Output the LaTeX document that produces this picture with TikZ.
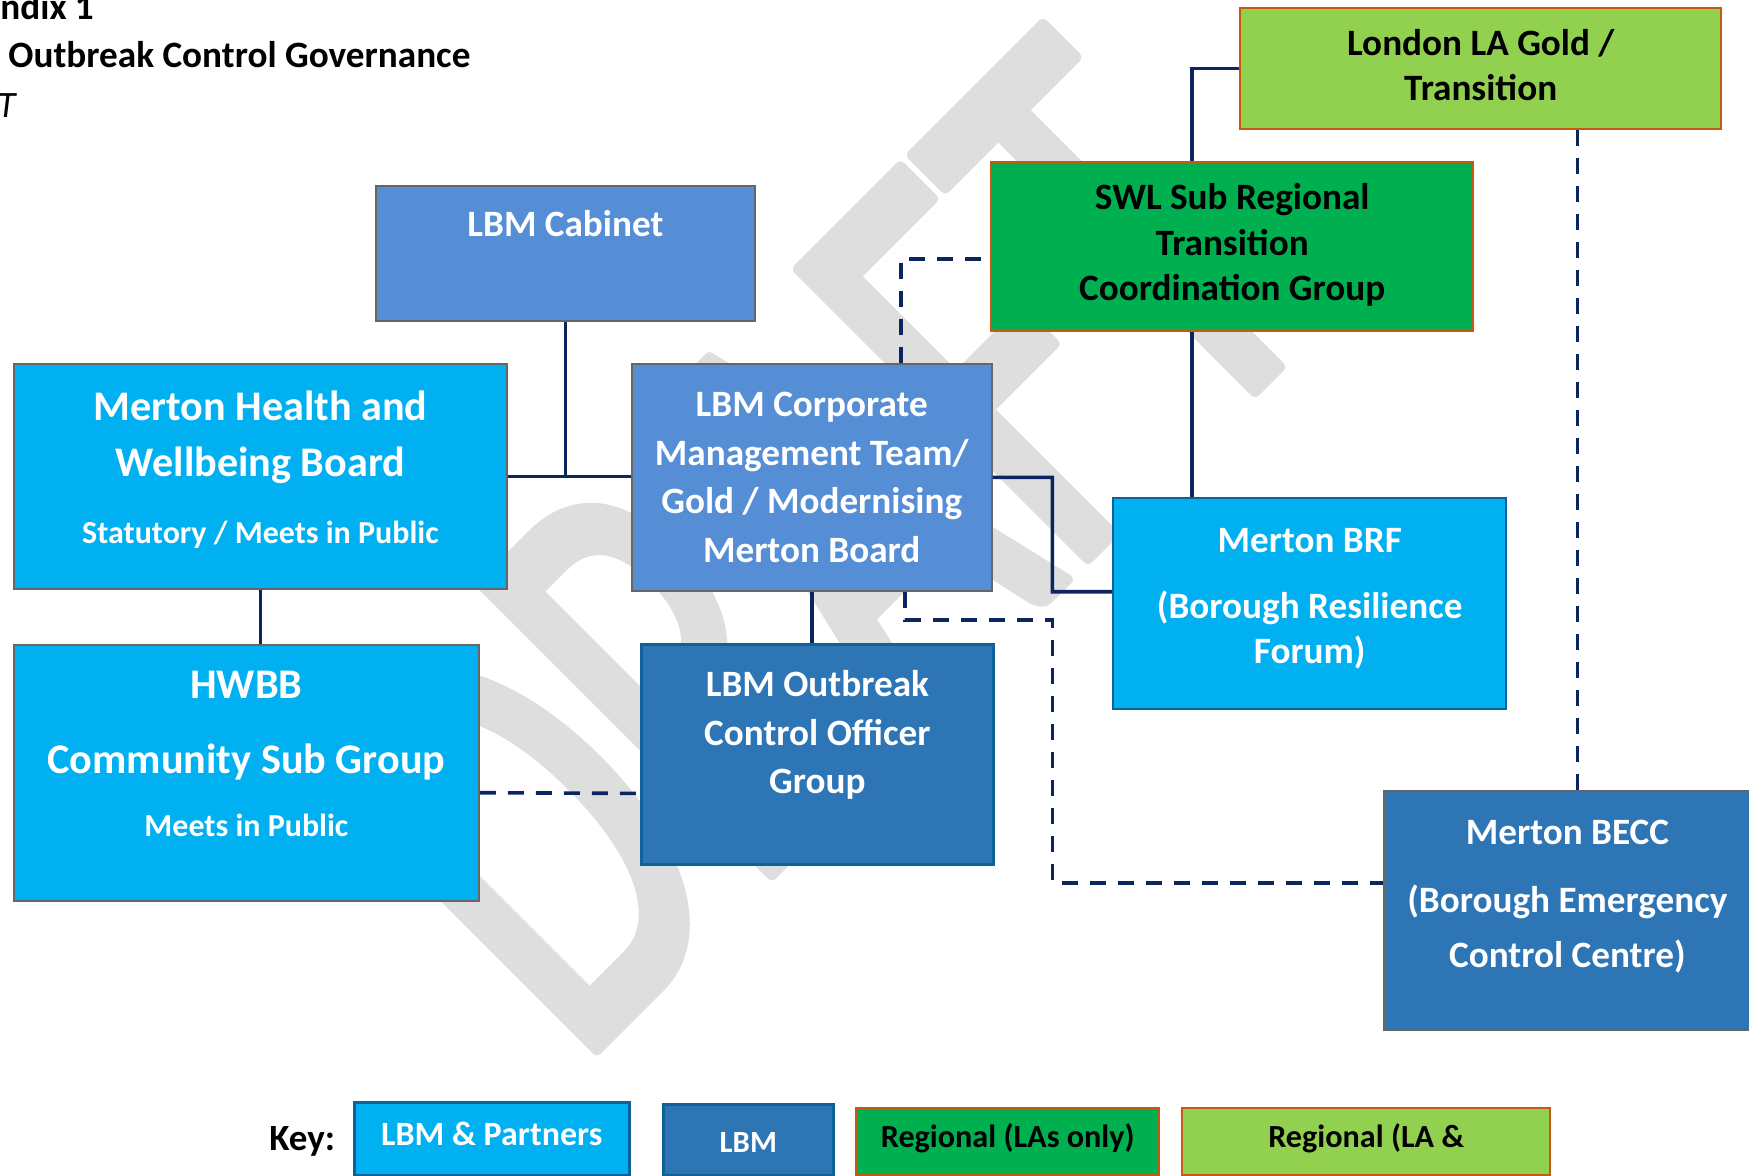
\documentclass[tikz,border=0pt]{standalone}
\usepackage{fontspec}
\setmainfont{Carlito}
\newfontfamily\draftfont[FakeStretch=0.625]{Carlito}
\usetikzlibrary{positioning}
\usetikzlibrary{calc}

\definecolor{linkcolor}{HTML}{0B2560}
\definecolor{partnerfill}{HTML}{00B0F0}
\definecolor{boardfill}{HTML}{558ED5}
\definecolor{lbmfill}{HTML}{2E75B6}
\definecolor{regionalfill}{HTML}{00B050}
\definecolor{londonfill}{HTML}{92D050}
\definecolor{regionalborder}{HTML}{C55A11}
\definecolor{lbmborder}{HTML}{0F6199}
\colorlet{greyborder}{black!60}
\colorlet{watermark}{black!13}

\newcommand{\boxfont}[2]{\fontsize{#1}{#2}\selectfont\bfseries}
% fill and stroke the letters so their corners come out rounded
\newcommand{\rounded}[1]{\special{pdf:literal direct 2 Tr 5 w 1 j}#1\special{pdf:literal direct 0 Tr}}

\tikzstyle{module}=[anchor=north west, inner sep=0pt, solid]
\tikzstyle{partnermodule}=[module, fill=partnerfill, draw=greyborder, line width=0.9pt]
\tikzstyle{boardmodule}=[module, fill=boardfill, draw=greyborder, line width=0.9pt]
\tikzstyle{lbmmodule}=[module, fill=lbmfill, draw=lbmborder, line width=1.6pt]
\tikzstyle{regionalmodule}=[module, fill=regionalfill, draw=regionalborder, line width=1.2pt]
\tikzstyle{londonmodule}=[module, fill=londonfill, draw=regionalborder, line width=1.2pt]
\tikzstyle{whitetext}=[white, align=center, anchor=base, inner sep=0pt]
\tikzstyle{blacktext}=[black, align=center, anchor=base, inner sep=0pt]
\tikzstyle{link}=[linkcolor, line width=1.8pt]
\tikzstyle{dashedlink}=[link, dash pattern=on 8pt off 6pt]

\begin{document}
\begin{tikzpicture}[x=0.5pt, y=-0.5pt]
    \useasboundingbox (0,0) rectangle (1749,1176);

    % watermark sits under everything
    \node[text=watermark, rotate=45, inner sep=0pt, font=\draftfont\fontsize{320pt}{320pt}\selectfont] (draftmark) at (812,545) {\rounded{DRAFT}};

    % heading
    \node[anchor=base west, inner sep=0pt, font=\boxfont{18.6pt}{22pt}] (heading) at (0,20) {ndix 1};
    \node[anchor=base west, inner sep=0pt, font=\boxfont{18.6pt}{22pt}] (headingtitle) at (8,68) {Outbreak Control Governance};
    \node[anchor=base west, inner sep=0pt, font=\fontsize{18.6pt}{22pt}\selectfont\itshape] (headingdraft) at (-3,118) {T};

    % boxes
    \node[boardmodule, minimum width=189.5pt, minimum height=67.5pt] (cabinet) at (375,185) {};
    \node[partnermodule, minimum width=246.5pt, minimum height=112.5pt] (hwb) at (13,363) {};
    \node[boardmodule, minimum width=180pt, minimum height=113.5pt] (corporate) at ($(hwb.north east)+(123,0)$) {};
    \node[partnermodule, minimum width=232.5pt, minimum height=128pt] (hwbb) at ($(hwb.south west)+(0,54)$) {};
    \node[lbmmodule, minimum width=176pt, minimum height=110pt] (outbreak) at ($(corporate.south west)+(9,51)$) {};
    \node[regionalmodule, minimum width=241pt, minimum height=84.5pt] (swl) at (990,161) {};
    \node[londonmodule, minimum width=240.5pt, minimum height=60.5pt] (london) at (1239,7) {};
    \node[partnermodule, draw=lbmborder, line width=1.2pt, minimum width=196.5pt, minimum height=105.5pt] (brf) at (1112,497) {};
    \node[lbmmodule, draw=greyborder, line width=0.9pt, minimum width=183.5pt, minimum height=119.5pt] (becc) at (1383,790) {};

    % box texts (base = last line)
    \node[whitetext, font=\boxfont{18.6pt}{24pt}] (cabinettext) at ($(cabinet.north)+(0,52)$) {LBM Cabinet};
    \node[whitetext, font=\boxfont{21.1pt}{28pt}] (hwbtext) at ($(hwb.north)+(0,113)$) {Merton Health and\\Wellbeing Board};
    \node[whitetext, font=\boxfont{16pt}{20pt}] (hwbnote) at ($(hwb.north)+(0,180)$) {Statutory / Meets in Public};
    \node[whitetext, font=\boxfont{18.6pt}{24.25pt}] (corporatetext) at ($(corporate.north)+(0,199)$) {LBM Corporate\\Management Team/\\Gold / Modernising\\Merton Board};
    \node[whitetext, font=\boxfont{21.1pt}{37.5pt}] (hwbbtext) at ($(hwbb.north)+(0,130)$) {HWBB\\Community Sub Group};
    \node[whitetext, font=\boxfont{16pt}{20pt}] (hwbbnote) at ($(hwbb.north)+(0,193)$) {Meets in Public};
    \node[whitetext, font=\boxfont{18.6pt}{24.25pt}] (outbreaktext) at ($(outbreak.north)+(0,151)$) {LBM Outbreak\\Control Officer\\Group};
    \node[blacktext, font=\boxfont{18.6pt}{22.75pt}] (swltext) at ($(swl.north)+(0,140)$) {SWL Sub Regional\\Transition\\Coordination Group};
    \node[blacktext, font=\boxfont{18.6pt}{22.5pt}] (londontext) at ($(london.north)+(0,94)$) {London LA Gold /\\Transition};
    \node[whitetext, font=\boxfont{18.6pt}{22.5pt}] (brftext) at ($(brf.north)+(0,166)$) {Merton BRF\\[10.5pt](Borough Resilience\\Forum)};
    \node[whitetext, font=\boxfont{18.6pt}{27.5pt}] (becctext) at ($(becc.north)+(0,177)$) {Merton BECC\\[6.5pt](Borough Emergency\\Control Centre)};

    % key
    \node[anchor=base west, inner sep=0pt, font=\boxfont{18.5pt}{22pt}] (keylabel) at (269,1150) {Key:};
    \node[partnermodule, draw=lbmborder, line width=1.3pt, minimum width=137.5pt, minimum height=36.5pt] (partnerkey) at (353,1101) {};
    \node[lbmmodule, line width=1.3pt, minimum width=85pt, minimum height=35.5pt] (lbmkey) at (662,1103) {};
    \node[regionalmodule, minimum width=151.5pt, minimum height=33.5pt] (regionalkey) at (855,1107) {};
    \node[londonmodule, minimum width=184pt, minimum height=33.5pt] (londonkey) at (1181,1107) {};
    \node[whitetext, font=\boxfont{17pt}{20pt}] (partnerkeytext) at ($(partnerkey.north)+(0,44)$) {LBM \& Partners};
    \node[whitetext, font=\boxfont{15.4pt}{20pt}] (lbmkeytext) at ($(lbmkey.north)+(0,49)$) {LBM};
    \node[blacktext, font=\boxfont{16.1pt}{20pt}] (regionalkeytext) at ($(regionalkey.north)+(0,40)$) {Regional (LAs only)};
    \node[blacktext, font=\boxfont{16.1pt}{20pt}] (londonkeytext) at ($(londonkey.north)+(0,40)$) {Regional (LA \&};

    % solid reporting lines
    \draw[link] (hwb.east) -- (hwb.east -| corporate.west);
    \draw[link] (cabinet.south) -- (cabinet.south |- hwb.east);
    \draw[link] (hwb.south) -- (hwb.south |- hwbb.north);
    \draw[link] (corporate.south) -- (corporate.south |- outbreak.north);
    \coordinate (brfbend) at ($(corporate.east)!0.5!(corporate.east -| brf.west)$);
    \draw[link] (corporate.east) -- (brfbend) |- ($(brf.west)+(0,-12)$);
    \coordinate (swlstem) at ($(swl.south west)+(202,0)$);
    \draw[link] (swlstem) -- (swlstem |- brf.north);
    \draw[link] ($(swl.north west)+(202,0)$) |- (london.west);

    % dashed liaison lines
    \draw[dashedlink] ($(corporate.north west)+(270,0)$) |- ($(swl.west)+(0,12.5)$);
    \draw[dashedlink] ($(corporate.south west)+(274,0)$) |- ($(brfbend |- corporate.south)+(0,28)$) |- ($(becc.west)+(0,-27.5)$);
    \draw[dashedlink] ($(hwbb.east)+(0,20)$) -- ($(outbreak.west)+(0,39)$);
    \coordinate (londondrop) at ($(london.south east)+(-145,0)$);
    \draw[dashedlink] (londondrop) -- (londondrop |- becc.north);
\end{tikzpicture}
\end{document}
